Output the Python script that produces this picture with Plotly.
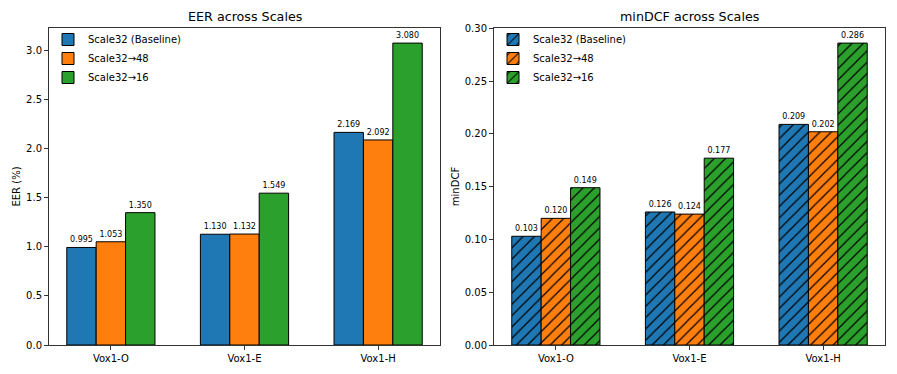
import plotly.graph_objects as go
from plotly.subplots import make_subplots

datasets = ["Vox1-O", "Vox1-E", "Vox1-H"]
series_names = ["Scale32 (Baseline)", "Scale32→48", "Scale32→16"]
colors = ["#1f77b4", "#ff7f0e", "#2ca02c"]

eer = [
    [0.995, 1.130, 2.169],
    [1.053, 1.132, 2.092],
    [1.350, 1.549, 3.080],
]
mindcf = [
    [0.103, 0.126, 0.209],
    [0.120, 0.124, 0.202],
    [0.149, 0.177, 0.286],
]

eer_ticks = [0.0, 0.5, 1.0, 1.5, 2.0, 2.5, 3.0]
dcf_ticks = [0.00, 0.05, 0.10, 0.15, 0.20, 0.25, 0.30]

W, H = 897, 374
OFF = 8  # page body margin shifts the figure by 8px
font = "DejaVu Sans"


def px_x(x):
    return (x - OFF) / W


def px_y(y):
    return 1 - (y - OFF) / H


fig = make_subplots(rows=1, cols=2)

for i, name in enumerate(series_names):
    fig.add_trace(go.Bar(
        x=datasets, y=eer[i], name=name,
        marker=dict(color=colors[i], line=dict(color="black", width=1)),
        text=[f"{v:.3f}" for v in eer[i]],
        textposition="outside", textangle=0,
        textfont=dict(size=8, color="black"),
        cliponaxis=False,
        legend="legend",
    ), row=1, col=1)

for i, name in enumerate(series_names):
    fig.add_trace(go.Bar(
        x=datasets, y=mindcf[i], name=name,
        marker=dict(color=colors[i], line=dict(color="black", width=1),
                    pattern=dict(shape="/", fgcolor="black", fgopacity=1,
                                 size=8, solidity=0.15)),
        text=[f"{v:.3f}" for v in mindcf[i]],
        textposition="outside", textangle=0,
        textfont=dict(size=8, color="black"),
        cliponaxis=False,
        legend="legend2",
    ), row=1, col=2)

axis_style = dict(
    showline=True, mirror=True, linecolor="#333", linewidth=1,
    ticks="outside", ticklen=4, tickcolor="#333",
    showgrid=False, zeroline=False,
    tickfont=dict(size=10, color="black"),
)

fig.update_xaxes(axis_style)
fig.update_yaxes(axis_style)

fig.update_xaxes(domain=[px_x(49), px_x(440)], range=[-0.463, 2.463], row=1, col=1)
fig.update_xaxes(domain=[px_x(494), px_x(885)], range=[-0.463, 2.463], row=1, col=2)
fig.update_yaxes(domain=[px_y(345), px_y(28)], range=[0, 3.234],
                 tickvals=eer_ticks, ticktext=[f"{t:.1f}" for t in eer_ticks],
                 title=dict(text="EER (%)", font=dict(size=10, color="black"), standoff=3),
                 row=1, col=1)
fig.update_yaxes(domain=[px_y(345), px_y(28)], range=[0, 0.3003],
                 tickvals=dcf_ticks, ticktext=[f"{t:.2f}" for t in dcf_ticks],
                 title=dict(text="minDCF", font=dict(size=10, color="black"), standoff=3),
                 row=1, col=2)

legend_style = dict(
    bgcolor="rgba(0,0,0,0)", font=dict(size=10, color="black"),
    xanchor="left", yanchor="top", tracegroupgap=0, itemwidth=30,
)

fig.update_layout(
    width=W, height=H,
    margin=dict(l=0, r=0, t=0, b=0, autoexpand=False),
    paper_bgcolor="white", plot_bgcolor="white",
    font=dict(family=font, color="black"),
    barmode="group", bargap=0.34, bargroupgap=0,
    legend=dict(legend_style, x=px_x(48), y=px_y(25)),
    legend2=dict(legend_style, x=px_x(493), y=px_y(25)),
    annotations=[
        dict(text="EER across Scales", x=px_x((49 + 440) / 2), y=px_y(17),
             xanchor="center", yanchor="middle",
             xref="paper", yref="paper", showarrow=False, font=dict(size=12.7)),
        dict(text="minDCF across Scales", x=px_x((494 + 885) / 2), y=px_y(17),
             xanchor="center", yanchor="middle",
             xref="paper", yref="paper", showarrow=False, font=dict(size=12.7)),
    ],
)

fig.write_html("out.html")
